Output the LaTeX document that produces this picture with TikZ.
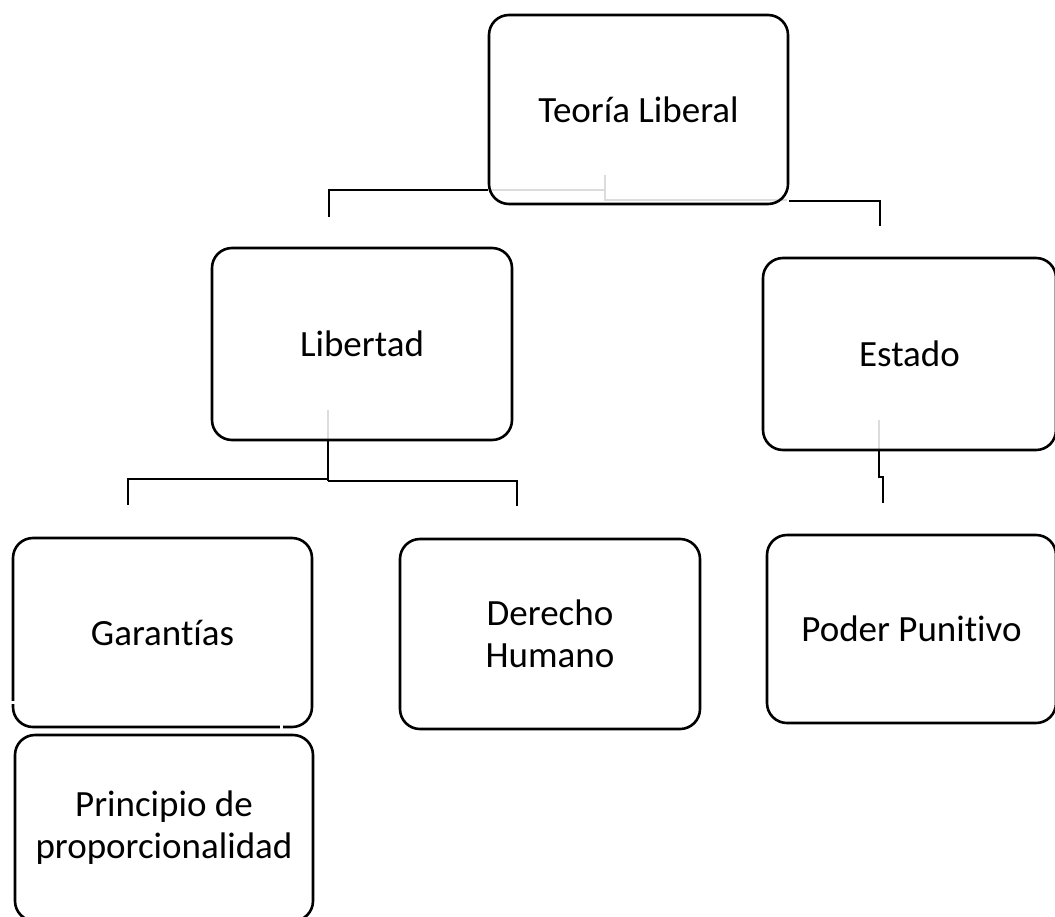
\documentclass[tikz,border=0pt]{standalone}
\usepackage{fontspec}
\setmainfont[Ligatures={NoCommon,NoRare,NoContextual}]{Carlito}
\definecolor{ghost}{HTML}{DCDCDC}
\begin{document}
\begin{tikzpicture}[x=1bp,y=-1bp,
  box/.style={draw=black, line width=2.6bp, rounded corners=20bp, inner sep=0pt,
    align=center, font=\fontsize{37bp}{42bp}\selectfont},
  conn/.style={draw=black, line width=1.5bp},
  ghostline/.style={draw=ghost, line width=1.3bp}]
\useasboundingbox (0,0) rectangle (1055,917);

% ghost parts of connectors (seen through the boxes)
\draw[ghostline] (490,190) -- (605,190) -- (605,175);
\draw[ghostline] (605,190) -- (605,200) -- (787,200);
\draw[ghostline] (328,410) -- (328,440);
\draw[ghostline] (879,420) -- (879,450);

% boxes
\node[box, minimum width=299bp, minimum height=189bp] (tl) at (638.5,109.5) {Teoría Liberal};
\node[box, minimum width=300bp, minimum height=192bp] (lib) at (362,344) {Libertad};
\node[box, minimum width=293bp, minimum height=192bp] (est) at (909.5,354) {Estado};
\node[box, minimum width=299bp, minimum height=189bp] (gar) at (162.5,632.5) {Garantías};
\node[box, minimum width=300bp, minimum height=190bp] (der) at (550,634) {Derecho\\Humano};
\node[box, minimum width=289bp, minimum height=188bp] (pod) at (911.5,629) {Poder Punitivo};
\node[box, minimum width=298bp, minimum height=186bp] (pri) at (164,828) {Principio de\\proporcionalidad};

% small breaks in the Garantías outline
\fill[white] (10,701) rectangle (16,704);
\fill[white] (280,724) rectangle (283,730);

% free ends of connectors
\coordinate (tlL) at (329,217);
\coordinate (tlR) at (880,226);
\coordinate (libL) at (128,505);
\coordinate (libR) at (517,506);
\coordinate (estJ) at (879,477);
\coordinate (estE) at (883,503);

% connectors
\draw[conn] (tl.west |- 0,190) -- (tlL |- 0,190) -- (tlL);
\draw[conn] (tl.east |- 0,201) -- (tlR |- 0,201) -- (tlR);
\draw[conn] (lib.south -| 328,0) -- (328,481);
\draw[conn] (328,479) -- (libL |- 0,479) -- (libL);
\draw[conn] (328,481) -- (libR |- 0,481) -- (libR);
\draw[conn] (est.south -| estJ) -- (estJ) -- (estE |- estJ) -- (estE);
\end{tikzpicture}
\end{document}
